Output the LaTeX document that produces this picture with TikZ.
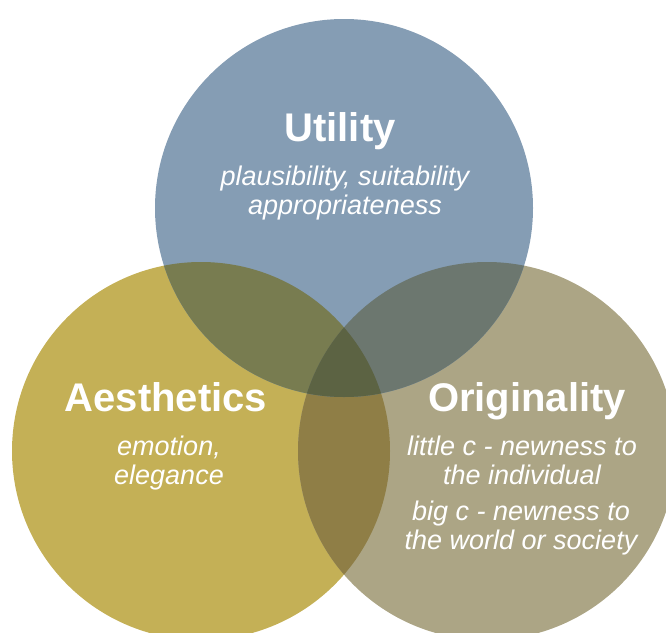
\documentclass[tikz,border=0pt]{standalone}
\usepackage{fontspec}
\setmainfont{Liberation Sans}
\usepackage{tikz}
\usetikzlibrary{positioning}

\definecolor{utilblue}{HTML}{859DB4}
\definecolor{aesthgold}{HTML}{C4B056}
\definecolor{origtaupe}{HTML}{ACA585}
\definecolor{utilaesth}{HTML}{787C50}
\definecolor{utilorig}{HTML}{6C776F}
\definecolor{aesthorig}{HTML}{8F7E46}
\definecolor{allthree}{HTML}{5C6343}

\begin{document}
\begin{tikzpicture}[x=1pt,y=-1pt,
	title/.style={anchor=base,text=white,font=\fontsize{40}{48}\selectfont\bfseries},
	note/.style={text=white,align=center,font=\fontsize{27}{29}\selectfont\itshape}]
	\useasboundingbox (0,0) rectangle (666,632);
	\coordinate (u) at (344,208);
	\coordinate (a) at (201,451);
	\coordinate (o) at (487,451);

	% lower circles and their overlap
	\fill[aesthgold] (a) circle (189pt);
	\fill[origtaupe] (o) circle (189pt);
	\begin{scope}
		\clip (a) circle (189pt);
		\fill[aesthorig] (o) circle (189pt);
	\end{scope}

	% upper circle on top
	\fill[utilblue] (u) circle (189pt);
	\begin{scope}
		\clip (u) circle (189pt);
		\fill[utilaesth] (a) circle (189pt);
		\fill[utilorig] (o) circle (189pt);
		\clip (a) circle (189pt);
		\fill[allthree] (o) circle (189pt);
	\end{scope}

	\node[title] (utiltitle) at (340,141) {Utility};
	\node[note] (utilnote) at (345,193) {plausibility, suitability\\appropriateness};
	\node[title] (aesthtitle) at (166,411) {Aesthetics};
	\node[note] (aesthnote) at (169,463) {emotion,\\elegance};
	\node[title] (origtitle) at (527,411) {Originality};
	\node[note] (orignote) at (522,460) {little c - newness to\\the individual};
	\node[note] (orignotebig) at (521,528) {big c - newness to\\the world or society};
\end{tikzpicture}
\end{document}
